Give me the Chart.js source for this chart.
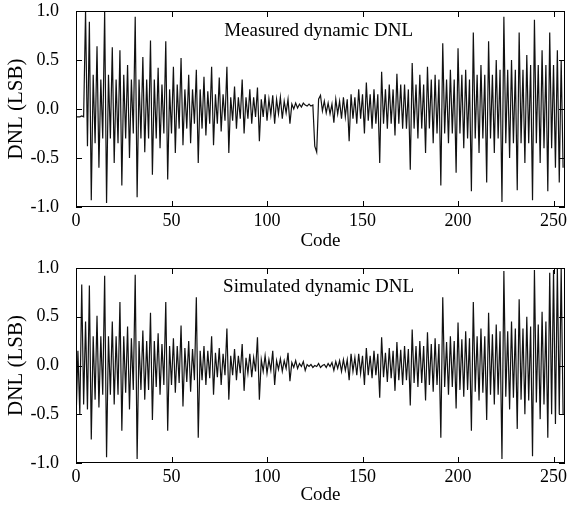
<!DOCTYPE html>
<html>
<head>
<meta charset="utf-8">
<script src="https://cdn.jsdelivr.net/npm/chart.js@4.4.1/dist/chart.umd.min.js"></script>
<style>
  html, body { margin: 0; padding: 0; background: #fff; }
  canvas { display: block; }
</style>
</head>
<body>
<canvas id="measChart" width="570" height="253"></canvas>
<canvas id="simChart" width="570" height="253"></canvas>
<script>
// DNL per code (LSB)
var measuredDnl = [
  -0.08, -0.08, -0.08, -0.07, -0.08, 1.00, -0.38, 0.89, -0.93, 0.35, -0.35, 0.64, -0.60, 0.30, -0.30, 1.00,
  -0.96, 0.35, -0.30, 0.63, -0.55, 0.30, -0.35, 0.60, -0.78, 0.35, -0.30, 0.45, -0.50, 0.30, -0.25, 0.94,
  -0.90, 0.30, -0.30, 0.53, -0.44, 0.30, -0.30, 0.70, -0.67, 0.30, -0.30, 0.42, -0.40, 0.25, -0.25, 0.69,
  -0.72, 0.20, -0.25, 0.43, -0.45, 0.25, -0.20, 0.52, -0.37, 0.20, -0.20, 0.35, -0.35, 0.20, -0.15, 0.40,
  -0.55, 0.20, -0.20, 0.33, -0.27, 0.18, -0.15, 0.43, -0.37, 0.15, -0.15, 0.32, -0.23, 0.15, -0.12, 0.43,
  -0.45, 0.12, -0.12, 0.23, -0.20, 0.12, -0.10, 0.30, -0.25, 0.12, -0.10, 0.20, -0.15, 0.12, -0.08, 0.22,
  -0.33, 0.10, -0.08, 0.15, -0.12, 0.10, -0.06, 0.14, -0.15, 0.10, -0.05, 0.12, -0.10, 0.08, -0.04, 0.10,
  -0.15, 0.05, 0.00, 0.06, 0.01, 0.05, 0.02, 0.06, 0.04, 0.03, 0.05, 0.03, 0.04, -0.38, -0.44, 0.10,
  0.14, -0.02, 0.08, -0.04, 0.06, -0.05, 0.05, -0.14, 0.10, -0.05, 0.08, -0.10, 0.12, -0.08, 0.10, -0.33,
  0.15, -0.10, 0.12, -0.15, 0.20, -0.10, 0.15, -0.25, 0.27, -0.12, 0.15, -0.20, 0.20, -0.15, 0.15, -0.55,
  0.38, -0.15, 0.20, -0.20, 0.25, -0.15, 0.20, -0.27, 0.36, -0.15, 0.25, -0.20, 0.25, -0.20, 0.20, -0.62,
  0.47, -0.20, 0.25, -0.30, 0.35, -0.20, 0.25, -0.45, 0.43, -0.20, 0.30, -0.35, 0.35, -0.25, 0.30, -0.78,
  0.67, -0.25, 0.30, -0.35, 0.40, -0.25, 0.30, -0.65, 0.62, -0.25, 0.35, -0.40, 0.40, -0.30, 0.30, -0.84,
  0.78, -0.30, 0.35, -0.45, 0.45, -0.30, 0.35, -0.75, 0.69, -0.30, 0.35, -0.45, 0.50, -0.30, 0.40, -0.95,
  0.94, -0.35, 0.40, -0.50, 0.50, -0.35, 0.40, -0.83, 0.78, -0.35, 0.40, -0.55, 0.55, -0.35, 0.45, -0.93,
  0.91, -0.35, 0.45, -0.55, 0.60, -0.40, 0.45, -0.84, 0.78, -0.40, 0.45, -0.60, 0.60, -0.75, 0.50, -0.60
];
var simulatedDnl = [
  -0.58, 0.15, -0.50, 0.83, -0.40, 0.45, -0.45, 0.82, -0.76, 0.30, -0.35, 0.51, -0.43, 0.30, -0.30, 0.92,
  -0.94, 0.30, -0.30, 0.45, -0.40, 0.30, -0.30, 0.65, -0.67, 0.30, -0.28, 0.40, -0.45, 0.28, -0.25, 0.93,
  -0.96, 0.25, -0.25, 0.36, -0.35, 0.25, -0.25, 0.54, -0.56, 0.25, -0.22, 0.33, -0.30, 0.22, -0.20, 0.65,
  -0.67, 0.20, -0.20, 0.28, -0.28, 0.20, -0.18, 0.41, -0.42, 0.18, -0.17, 0.25, -0.27, 0.17, -0.15, 0.70,
  -0.74, 0.15, -0.15, 0.20, -0.20, 0.15, -0.13, 0.30, -0.30, 0.13, -0.12, 0.18, -0.20, 0.12, -0.10, 0.38,
  -0.35, 0.10, -0.10, 0.17, -0.15, 0.10, -0.08, 0.22, -0.26, 0.08, -0.08, 0.12, -0.12, 0.08, -0.06, 0.29,
  -0.35, 0.06, -0.06, 0.10, -0.08, 0.06, -0.05, 0.15, -0.20, 0.05, -0.04, 0.07, -0.06, 0.05, -0.03, 0.13,
  -0.16, 0.03, -0.02, 0.05, -0.03, 0.02, -0.01, 0.04, -0.05, 0.01, -0.01, 0.01, -0.02, 0.00, -0.01, 0.02,
  -0.02, 0.00, 0.01, -0.02, 0.02, -0.01, 0.03, -0.05, 0.04, -0.03, 0.05, -0.06, 0.06, -0.05, 0.06, -0.15,
  0.12, -0.06, 0.08, -0.10, 0.12, -0.08, 0.10, -0.20, 0.18, -0.10, 0.10, -0.13, 0.15, -0.10, 0.12, -0.33,
  0.29, -0.12, 0.13, -0.17, 0.18, -0.13, 0.15, -0.26, 0.24, -0.15, 0.16, -0.20, 0.20, -0.15, 0.17, -0.41,
  0.37, -0.18, 0.20, -0.22, 0.25, -0.18, 0.20, -0.36, 0.34, -0.20, 0.22, -0.27, 0.28, -0.20, 0.22, -0.74,
  0.70, -0.22, 0.24, -0.30, 0.30, -0.22, 0.25, -0.44, 0.44, -0.25, 0.27, -0.32, 0.35, -0.25, 0.28, -0.67,
  0.65, -0.27, 0.30, -0.36, 0.38, -0.28, 0.30, -0.56, 0.54, -0.30, 0.32, -0.40, 0.42, -0.30, 0.35, -0.96,
  0.97, -0.32, 0.35, -0.45, 0.45, -0.33, 0.38, -0.65, 0.68, -0.35, 0.38, -0.50, 0.50, -0.36, 0.40, -0.93,
  0.98, -0.38, 0.42, -0.55, 0.55, -0.40, 0.45, -0.74, 0.95, -0.50, 0.98, -0.60, 1.00, -0.50, 1.00, -0.50
];
var xTicks = [0, 50, 100, 150, 200, 250];
var yTicks = [-1.0, -0.5, 0.0, 0.5, 1.0];

var serif = "'Liberation Serif', 'DejaVu Serif', serif";

// box around plot area, ticks pointing inward, caption inside
var framePlugin = {
  id: 'frame',
  afterDraw: function(chart, args, opts) {
    var ctx = chart.ctx, a = chart.chartArea;
    var x = chart.scales.x, y = chart.scales.y;
    var len = 6;
    ctx.save();
    ctx.strokeStyle = '#000';
    ctx.lineWidth = 1;
    ctx.strokeRect(Math.round(a.left) + 0.5, Math.round(a.top) + 0.5,
                   Math.round(a.width) - 1, Math.round(a.height) - 1);
    ctx.beginPath();
    xTicks.forEach(function(v) {
      var px = Math.round(x.getPixelForValue(v)) + 0.5;
      ctx.moveTo(px, a.bottom); ctx.lineTo(px, a.bottom - len);
      ctx.moveTo(px, a.top); ctx.lineTo(px, a.top + len);
    });
    yTicks.forEach(function(v) {
      var py = Math.round(y.getPixelForValue(v)) + 0.5;
      ctx.moveTo(a.left, py); ctx.lineTo(a.left + len, py);
      ctx.moveTo(a.right, py); ctx.lineTo(a.right - len, py);
    });
    ctx.stroke();
    ctx.fillStyle = '#000';
    ctx.font = '19px ' + serif;
    ctx.textAlign = 'center';
    ctx.textBaseline = 'middle';
    ctx.fillText(opts.text, x.getPixelForValue(opts.at[0]), y.getPixelForValue(opts.at[1]));
    ctx.restore();
  }
};

function makeChart(id, values, caption, pad) {
  var points = values.map(function(v, i) { return { x: i, y: v }; });
  return new Chart(document.getElementById(id), {
    type: 'line',
    data: {
      datasets: [{
        data: points,
        borderColor: '#111',
        borderWidth: 1.2,
        pointRadius: 0,
        tension: 0,
        fill: false
      }]
    },
    options: {
      responsive: false,
      animation: false,
      events: [],
      layout: { padding: pad },
      plugins: {
        legend: { display: false },
        tooltip: { enabled: false },
        frame: { text: caption, at: [127, 0.8] }
      },
      scales: {
        x: {
          type: 'linear',
          min: 0,
          max: 256,
          afterBuildTicks: function(s) { s.ticks = xTicks.map(function(v) { return { value: v }; }); },
          afterFit: function(s) { s.height = pad.xh; s.paddingLeft = 0; s.paddingRight = 0; },
          grid: { display: false, drawTicks: false },
          border: { display: false },
          ticks: { color: '#000', padding: 3, maxRotation: 0, font: { family: serif, size: 18 } },
          title: { display: true, text: 'Code', color: '#000', padding: { top: 0, bottom: 0 },
                   font: { family: serif, size: 19 } }
        },
        y: {
          min: -1,
          max: 1,
          afterBuildTicks: function(s) { s.ticks = yTicks.map(function(v) { return { value: v }; }); },
          afterFit: function(s) { s.width = 76; s.paddingTop = 0; s.paddingBottom = 0; },
          grid: { display: false, drawTicks: false },
          border: { display: false },
          ticks: {
            color: '#000', padding: 17, font: { family: serif, size: 18 },
            callback: function(v) { return v.toFixed(1); }
          },
          title: { display: true, text: 'DNL (LSB)', color: '#000', padding: { top: 4, bottom: 0 },
                   font: { family: serif, size: 21 } }
        }
      }
    },
    plugins: [framePlugin]
  });
}

makeChart('measChart', measuredDnl, 'Measured dynamic DNL', { top: 11, right: 5, bottom: 1, left: 0, xh: 45 });
makeChart('simChart', simulatedDnl, 'Simulated dynamic DNL', { top: 15, right: 5, bottom: 0, left: 0, xh: 43 });
</script>
</body>
</html>
